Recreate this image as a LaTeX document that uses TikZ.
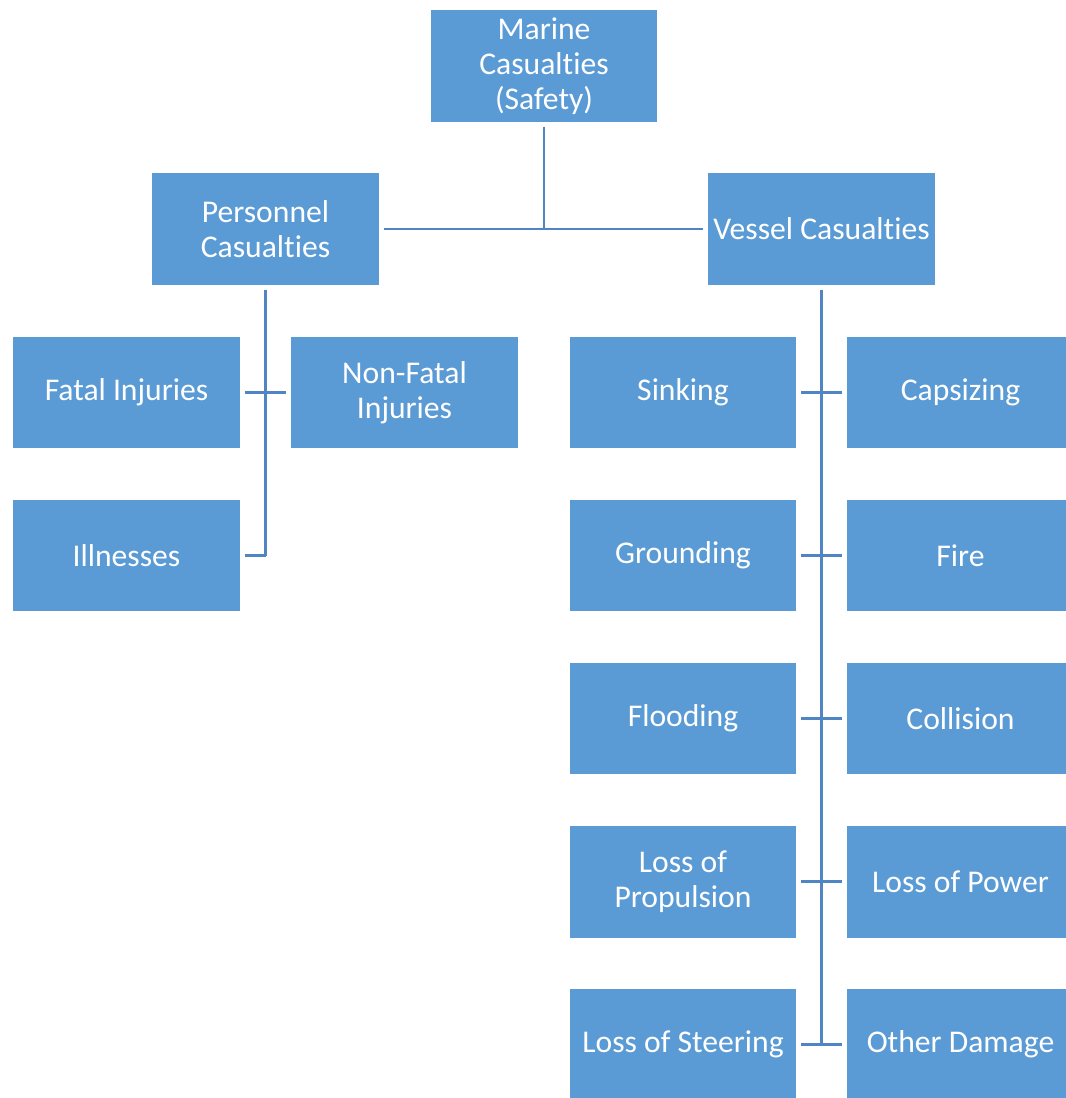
\documentclass[tikz,border=0pt]{standalone}
\usepackage{fontspec}
\setmainfont{Carlito}[Ligatures=NoCommon]
\usepackage{xcolor}
\usetikzlibrary{positioning}
\definecolor{boxblue}{HTML}{5B9BD5}
\definecolor{lineblue}{HTML}{4F85C2}
\tikzstyle{link} = [draw=lineblue, line width=1.4pt, shorten <=2.5pt, shorten >=2.5pt]

\begin{document}
\begin{tikzpicture}[
        x=0.02cm, y=-0.02cm,
        cat/.style={fill=boxblue, text=white, inner sep=0pt, align=center,
            minimum width=4.54cm, minimum height=2.24cm,
            font=\fontsize{18}{20}\selectfont},
    ]
        \useasboundingbox (0,0) rectangle (1065,1098);
        \fill[white] (0,0) rectangle (1065,1098);

        \node[cat] (top) at (544, 66) {Marine\\Casualties\\(Safety)};
        \node[cat] (pers) at (265.5, 229) {Personnel\\Casualties};
        \node[cat] (vess) at (821.5, 229) {Vessel Casualties};

        \node[cat] (fatal) at (126.5, 392.5) {Fatal Injuries};
        \node[cat] (nonfatal) at (404.5, 392.5) {Non-Fatal\\Injuries};
        \node[cat] (ill) at (126.5, 555.5) {Illnesses};

        \node[cat] (sink) at (683, 392.5) {Sinking};
        \node[cat] (caps) at (960.5, 392.5) {Capsizing};
        \node[cat] (ground) at (683, 555.5) {Grounding};
        \node[cat] (fire) at (960.5, 555.5) {Fire};
        \node[cat] (flood) at (683, 718.5) {Flooding};
        \node[cat] (coll) at (960.5, 718.5) {Collision};
        \node[cat] (prop) at (683, 881.5) {Loss of\\Propulsion};
        \node[cat] (power) at (960.5, 881.5) {Loss of Power};
        \node[cat] (steer) at (683, 1044.5) {Loss of Steering};
        \node[cat] (other) at (960.5, 1044.5) {Other Damage};

        % top level
        \draw[link, shorten >=0pt] (top.south) -- (top.south |- pers.east);
        \draw[link] (pers.east) -- (vess.west);

        % personnel branch
        \draw[link, shorten >=0pt] (pers.south) -- (pers.south |- ill.east);
        \draw[link] (fatal.east) -- (nonfatal.west);
        \draw[link, shorten >=0pt] (ill.east) -| (pers.south |- ill.east);

        % vessel branch
        \draw[link, shorten >=0pt] (vess.south) -- (vess.south |- steer.east);
        \draw[link] (sink.east) -- (caps.west);
        \draw[link] (ground.east) -- (fire.west);
        \draw[link] (flood.east) -- (coll.west);
        \draw[link] (prop.east) -- (power.west);
        \draw[link] (steer.east) -- (other.west);
    \end{tikzpicture}
\end{document}
